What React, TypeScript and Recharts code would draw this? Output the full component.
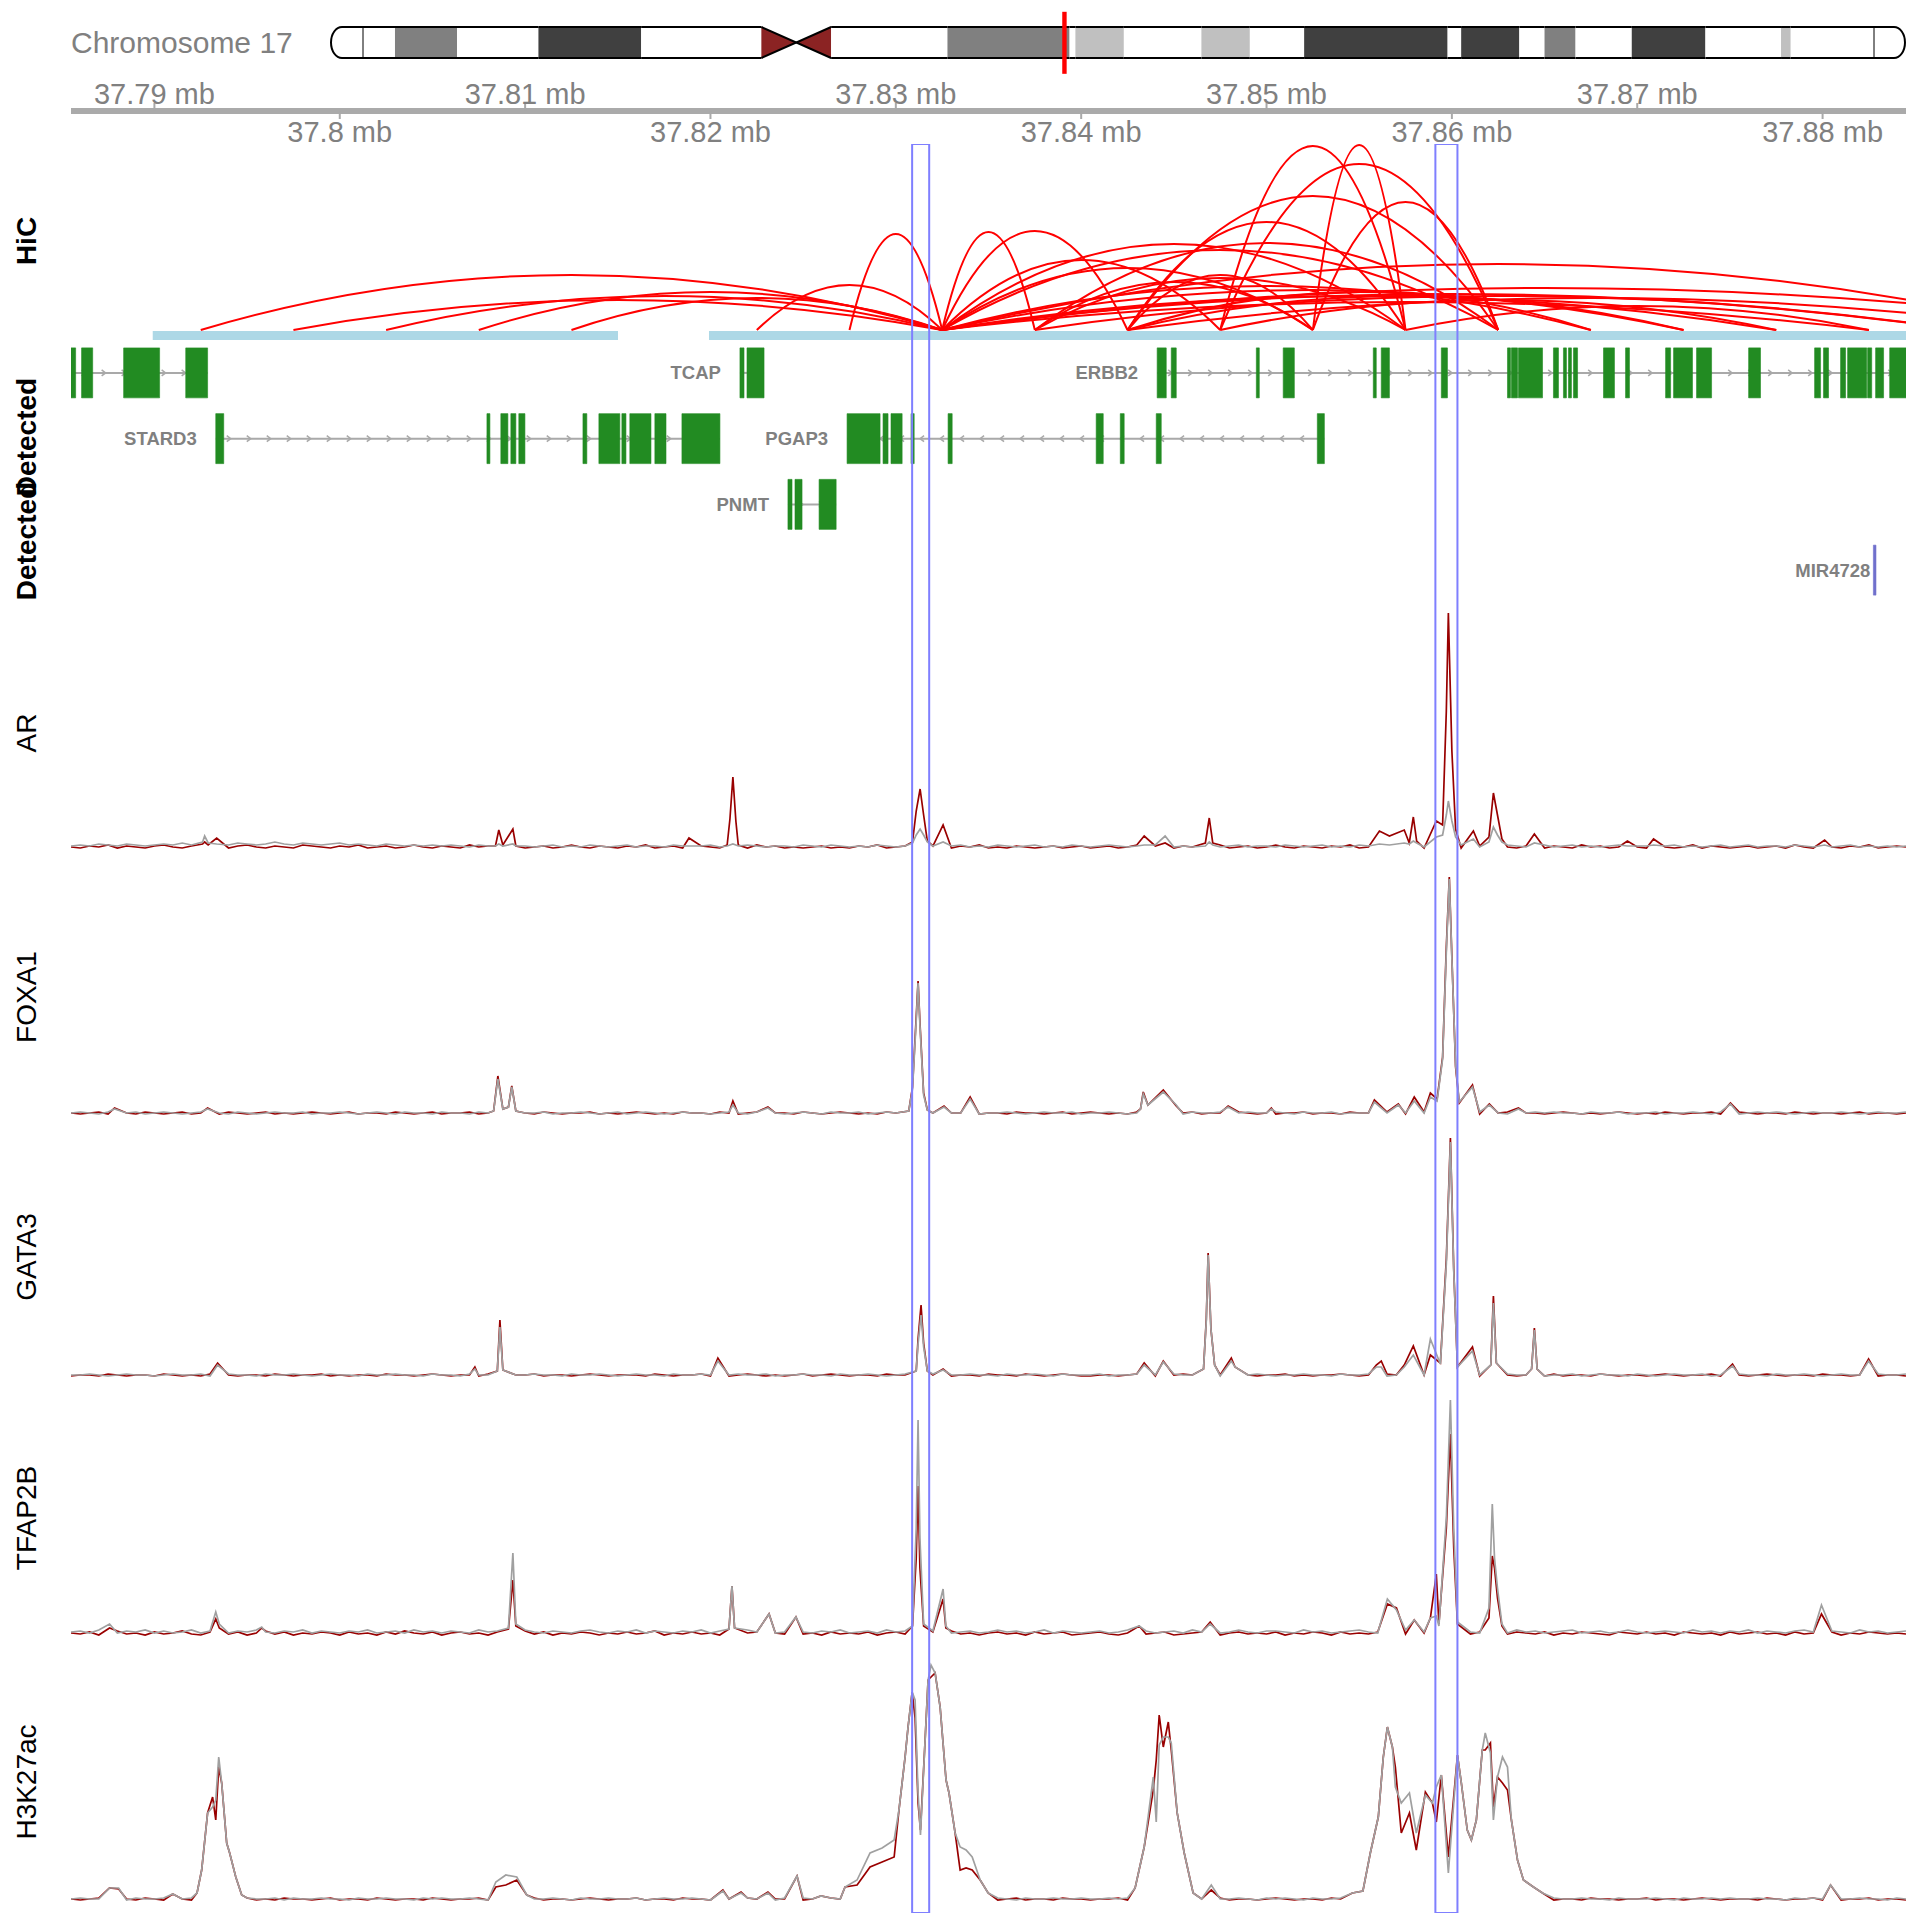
import { ComposedChart, Line, XAxis, YAxis, ReferenceArea, ReferenceLine, ReferenceDot } from "recharts";

const FONT = '"Liberation Sans", Arial, Helvetica, sans-serif';
const X_DOMAIN: [number, number] = [37.7855, 37.8845];
const MARGIN_X = { left: 71, right: 14 };

// ---- ideogram (chr17, hg19 bands, Mb) ----
const CHR17_LENGTH = 81.195;
const CHR17_BANDS: [string, number, number, string][] = [
  ["p13.3", 0, 3.3, "gneg"], ["p13.2", 3.3, 6.5, "gpos50"], ["p13.1", 6.5, 10.7, "gneg"],
  ["p12", 10.7, 16.0, "gpos75"], ["p11.2", 16.0, 22.2, "gneg"], ["p11.1", 22.2, 24.0, "acen"],
  ["q11.1", 24.0, 25.8, "acen"], ["q11.2", 25.8, 31.8, "gneg"], ["q12", 31.8, 38.1, "gpos50"],
  ["q21.1", 38.1, 38.4, "gneg"], ["q21.2", 38.4, 40.9, "gpos25"], ["q21.31", 40.9, 44.9, "gneg"],
  ["q21.32", 44.9, 47.4, "gpos25"], ["q21.33", 47.4, 50.2, "gneg"], ["q22", 50.2, 57.6, "gpos75"],
  ["q23.1", 57.6, 58.3, "gneg"], ["q23.2", 58.3, 61.3, "gpos75"], ["q23.3", 61.3, 62.6, "gneg"],
  ["q24.1", 62.6, 64.2, "gpos50"], ["q24.2", 64.2, 67.1, "gneg"], ["q24.3", 67.1, 70.9, "gpos75"],
  ["q25.1", 70.9, 74.8, "gneg"], ["q25.2", 74.8, 75.3, "gpos25"], ["q25.3", 75.3, 81.195, "gneg"],
];
const BAND_FILL: Record<string, string> = {
  gneg: "#FFFFFF", gpos25: "#C0C0C0", gpos50: "#808080", gpos75: "#404040", gpos100: "#000000", acen: "#8B2323",
};

// ---- genome axis ----
const AXIS_TICKS = [37.79, 37.8, 37.81, 37.82, 37.83, 37.84, 37.85, 37.86, 37.87, 37.88];

// ---- HiC ----
const HIC_BLOCKS: [number, number][] = [[37.78991, 37.81501], [37.81992, 37.8846]];
const HIC_LINKS: [number, number, number][] = [
  [37.7925, 37.8325, 55], [37.7975, 37.8325, 30], [37.8025, 37.8325, 34], [37.8075, 37.8325, 38],
  [37.8125, 37.8325, 32], [37.8225, 37.8325, 45], [37.8275, 37.8325, 96],
  [37.8325, 37.8375, 98], [37.8325, 37.8425, 99], [37.8325, 37.8475, 70], [37.8325, 37.8525, 62],
  [37.8325, 37.8575, 86], [37.8325, 37.8625, 80], [37.8325, 37.8675, 44], [37.8325, 37.8725, 40],
  [37.8325, 37.8775, 34], [37.8325, 37.8825, 28], [37.8325, 37.8875, 36], [37.8325, 37.8925, 66],
  [37.8325, 37.8975, 42],
  [37.8375, 37.8525, 48], [37.8375, 37.8575, 52], [37.8375, 37.8625, 87], [37.8375, 37.8875, 34],
  [37.8425, 37.8525, 55], [37.8425, 37.8575, 108], [37.8425, 37.8625, 134], [37.8425, 37.8675, 38],
  [37.8425, 37.8725, 34], [37.8425, 37.8925, 32],
  [37.8475, 37.8575, 184], [37.8475, 37.8625, 166], [37.8475, 37.8775, 30],
  [37.8525, 37.8575, 185], [37.8525, 37.8625, 128], [37.8575, 37.8825, 24],
];

// ---- genes (exon start/end, Mb) ----
const LEFT_GENE_EXONS: [number, number][] = [[37.78548, 37.78575], [37.78607, 37.78667], [37.78834, 37.79028], [37.79169, 37.79287]];
const TCAP_EXONS: [number, number][] = [[37.82159, 37.82181], [37.82197, 37.82289]];
const ERBB2_EXONS: [number, number][] = [
  [37.8441, 37.84459], [37.84486, 37.84513], [37.84945, 37.84961], [37.8509, 37.8515], [37.85576, 37.85592],
  [37.85619, 37.85663], [37.85943, 37.85976], [37.863, 37.86316], [37.86321, 37.86354], [37.86359, 37.86489],
  [37.86548, 37.86575], [37.86602, 37.86618], [37.86629, 37.86645], [37.86656, 37.86678], [37.86818, 37.86877],
  [37.86937, 37.86958], [37.87153, 37.8718], [37.87196, 37.87298], [37.8732, 37.87401], [37.87601, 37.87665],
  [37.87957, 37.87989], [37.88005, 37.88032], [37.88097, 37.88124], [37.88135, 37.88238], [37.88243, 37.88265],
  [37.88286, 37.88329], [37.88362, 37.8846],
];
const STARD3_EXONS: [number, number][] = [
  [37.79331, 37.79374], [37.80794, 37.8081], [37.80869, 37.80907], [37.80923, 37.8095], [37.80966, 37.80999],
  [37.81312, 37.81333], [37.81398, 37.81511], [37.81522, 37.81544], [37.81565, 37.81679], [37.817, 37.8176],
  [37.81846, 37.82051],
];
const PGAP3_EXONS: [number, number][] = [
  [37.82737, 37.82915], [37.82931, 37.82958], [37.82974, 37.83034], [37.83082, 37.83099], [37.83282, 37.83304],
  [37.84081, 37.84119], [37.84211, 37.84232], [37.84405, 37.84432], [37.85274, 37.85312],
];
const PNMT_EXONS: [number, number][] = [[37.82418, 37.8244], [37.82456, 37.82494], [37.82586, 37.82678]];
const MIR4728_EXONS: [number, number][] = [[37.88274, 37.88288]];

const GENES = [
  { name: "", row: 0, strand: 1, exons: LEFT_GENE_EXONS, color: "#228B22", offset: 18 },
  { name: "TCAP", row: 0, strand: 1, exons: TCAP_EXONS, color: "#228B22", offset: 18 },
  { name: "ERBB2", row: 0, strand: 1, exons: ERBB2_EXONS, color: "#228B22", offset: 18 },
  { name: "STARD3", row: 1, strand: 1, exons: STARD3_EXONS, color: "#228B22", offset: 18 },
  { name: "PGAP3", row: 1, strand: -1, exons: PGAP3_EXONS, color: "#228B22", offset: 18 },
  { name: "PNMT", row: 2, strand: 1, exons: PNMT_EXONS, color: "#228B22", offset: 18 },
  { name: "MIR4728", row: 3, strand: 1, exons: MIR4728_EXONS, color: "#7070CC", offset: 2 },
];

// ---- highlighted regions ----
const HIGHLIGHTS: [number, number][] = [[37.83088, 37.8318], [37.85911, 37.8603]];

// ---- signal tracks: baseline samples every 0.5 kb from 37.7855 Mb, plus peaks [pos, treat, ctrl] ----
const BASE_START = 37.7855;
const BASE_STEP = 0.0005;

const AR_TREAT_BASE = [
  4,3,5,4,6,3,5,4,3,5, 6,4,3,5,4,7,4,3,5,6, 4,3,5,4,3,6,5,4,3,5, 4,6,3,4,5,3,4,6,4,3,
  5,4,3,6,4,5,3,4,5,3, 4,5,3,4,6,4,3,5,4,3, 5,4,6,3,4,5,3,4,5,4, 3,5,4,3,6,4,5,3,4,3,
  4,5,3,4,3,5,4,6,3,4, 5,3,4,5,4,3,5,4,6,3, 4,3,5,4,3,4,5,3,4,5, 3,4,5,3,4,6,3,5,4,3,
  5,4,3,4,6,3,4,5,3,4, 6,4,3,5,4,3,5,4,6,3, 4,5,3,4,5,4,3,6,4,5, 3,4,5,3,6,4,3,5,4,3,
  5,4,3,6,4,5,3,4,5,4, 3,5,4,3,4,6,3,5,4,3, 4,5,3,4,5,3,6,4,3,5, 4,3,5,4,6,3,4,5,4,
];
const AR_CTRL_BASE = [
  5,6,5,7,6,5,7,6,5,6, 7,6,8,6,7,5,7,6,8,7, 6,7,9,7,6,8,7,6,7,8, 6,7,6,5,7,6,5,6,5,6,
  5,6,5,4,6,5,4,5,6,5, 4,5,6,4,5,4,6,5,4,5, 6,4,5,5,4,6,5,4,5,6, 4,5,4,6,5,4,5,5,4,6,
  5,4,6,5,4,5,4,6,5,4, 5,6,4,5,4,5,6,4,5,4, 6,5,4,5,6,4,5,4,6,5, 4,5,6,5,4,5,4,6,5,4,
  5,4,5,6,4,5,6,4,5,5, 4,6,5,4,5,6,4,5,4,6, 5,4,6,5,4,5,4,6,5,4, 6,5,4,5,4,6,5,4,5,6,
  4,5,6,4,5,4,5,6,4,5, 5,4,5,6,4,5,4,5,6,4, 5,6,4,5,5,4,6,5,4,5, 4,5,6,4,5,4,5,4,5,
];
const AR_PEAKS: [number, number, number][] = [
  [37.7926, 7, 9], [37.79271, 9, 15], [37.7929, 6, 8], [37.79336, 13, 7],
  [37.8084, 5, 5], [37.80858, 21, 7], [37.8088, 6, 5], [37.80934, 22, 7], [37.8095, 5, 5],
  [37.81884, 13, 5],
  [37.8209, 6, 5], [37.82105, 32, 6], [37.82121, 74, 7], [37.82137, 30, 6], [37.8215, 6, 5],
  [37.8309, 9, 8], [37.8311, 40, 16], [37.83131, 62, 22], [37.8315, 36, 16], [37.8317, 10, 9],
  [37.83255, 26, 9], [37.8434, 15, 6], [37.84453, 8, 15],
  [37.8467, 8, 5], [37.84691, 33, 9], [37.8471, 8, 6],
  [37.85609, 20, 7], [37.85663, 15, 6], [37.85743, 21, 8], [37.8577, 8, 7], [37.85792, 34, 10], [37.8581, 10, 8],
  [37.85916, 30, 14], [37.8595, 26, 16], [37.8597, 140, 36], [37.85981, 238, 50], [37.86, 100, 30], [37.8602, 22, 14],
  [37.86116, 20, 12], [37.862, 14, 9], [37.86224, 58, 24], [37.86246, 36, 16], [37.8627, 12, 9],
  [37.86445, 17, 8], [37.86947, 10, 5], [37.87088, 12, 6], [37.88011, 11, 6],
];

const FOXA1_TREAT_BASE = [
  4,3,4,5,3,4,4,3,5,4, 3,4,5,3,4,4,3,5,4,3, 4,5,3,4,3,4,5,4,3,4, 5,3,4,4,3,5,4,3,4,5,
  3,4,4,5,3,4,3,5,4,4, 3,5,4,3,4,4,5,3,4,3, 4,5,4,3,4,3,5,4,4,3, 5,4,3,4,5,3,4,4,3,5,
  4,3,4,5,4,3,4,3,5,4, 3,4,5,4,3,4,4,5,3,4, 4,3,5,4,4,3,4,5,3,4, 5,4,3,4,3,5,4,4,3,4,
  4,5,3,4,4,3,5,4,3,4, 3,4,4,5,3,4,4,3,5,4, 4,3,5,4,3,4,5,4,3,4, 5,4,3,4,4,5,3,4,4,3,
  4,5,4,3,4,3,4,5,4,3, 4,3,5,4,3,4,4,5,3,4, 5,4,3,4,4,3,5,4,3,4, 4,3,4,5,3,4,4,3,4,
];
const FOXA1_CTRL_BASE = [
  4,5,4,3,5,4,4,5,3,4, 5,4,3,4,5,4,4,3,5,4, 3,4,5,4,4,5,3,4,4,5, 4,3,4,5,4,3,5,4,4,3,
  5,4,4,3,5,4,3,4,5,4, 4,5,3,4,4,5,4,3,4,5, 3,4,5,4,3,4,5,4,4,3, 4,5,4,3,5,4,4,3,4,5,
  4,3,5,4,4,5,3,4,5,4, 5,4,3,4,5,4,4,5,3,4, 4,5,4,3,4,5,4,4,5,3, 4,4,5,4,3,4,5,4,3,5,
  3,5,4,4,5,3,4,5,4,4, 5,4,3,5,4,4,5,3,4,4, 4,5,4,3,4,5,4,4,3,5, 4,3,5,4,4,3,5,4,5,4,
  5,4,4,3,5,4,4,5,3,4, 4,5,3,4,4,5,4,3,5,4, 3,4,5,4,5,4,3,4,5,4, 4,5,4,3,4,5,4,4,5,
];
const FOXA1_PEAKS: [number, number, number][] = [
  [37.78785, 9, 8], [37.79287, 9, 8],
  [37.8083, 6, 6], [37.80853, 41, 38], [37.8088, 8, 8], [37.8091, 10, 10], [37.80928, 31, 30], [37.8095, 6, 6],
  [37.82121, 16, 12], [37.8231, 10, 9],
  [37.8307, 6, 6], [37.8309, 30, 28], [37.8311, 100, 96], [37.8312, 136, 134], [37.8313, 95, 92], [37.8315, 24, 22], [37.8317, 7, 7],
  [37.8326, 11, 10], [37.83401, 20, 18],
  [37.8432, 8, 8], [37.84335, 25, 23], [37.8436, 12, 12], [37.84443, 27, 25], [37.84513, 11, 12],
  [37.84793, 11, 10], [37.85026, 9, 8],
  [37.85582, 17, 15], [37.85711, 13, 12], [37.85797, 20, 16], [37.85884, 24, 20],
  [37.8592, 18, 16], [37.8595, 60, 58], [37.8597, 170, 165], [37.85986, 240, 238], [37.86, 160, 158], [37.8602, 50, 52], [37.8604, 14, 15],
  [37.86111, 32, 30], [37.86202, 13, 12], [37.86359, 9, 8], [37.87503, 14, 13],
];

const GATA3_TREAT_BASE = [
  3,4,4,3,5,4,3,4,4,3, 5,4,3,4,3,5,4,4,3,4, 4,3,5,4,3,4,4,5,3,4, 3,4,4,3,5,4,4,3,4,5,
  4,3,4,4,3,5,4,3,4,4, 5,3,4,4,3,4,5,4,3,4, 4,4,3,5,4,3,4,4,5,3, 4,3,4,5,4,3,4,3,4,5,
  3,4,5,4,3,4,4,3,5,4, 4,3,4,4,5,3,4,4,3,5, 4,4,3,5,4,3,4,5,4,3, 3,4,4,3,4,5,4,3,4,4,
  5,4,3,4,4,3,5,4,3,4, 4,5,3,4,3,4,4,5,4,3, 4,3,5,4,4,3,4,4,5,3, 4,4,3,4,5,4,3,4,4,3,
  5,3,4,4,3,5,4,3,4,4, 3,4,5,4,3,4,4,5,3,4, 4,3,4,5,4,3,4,4,3,5, 4,4,3,4,5,3,4,4,3,
];
const GATA3_CTRL_BASE = [
  4,4,5,4,3,4,5,4,4,3, 4,5,4,4,5,3,4,5,4,4, 3,5,4,4,5,4,3,4,5,4, 4,3,5,4,4,5,4,4,3,5,
  4,4,3,5,4,4,5,3,4,4, 5,4,4,3,5,4,4,5,4,3, 4,5,4,4,3,5,4,4,5,4, 3,4,5,4,4,5,3,4,4,5,
  4,4,3,5,4,4,5,4,3,4, 5,4,4,5,3,4,4,5,4,4, 3,5,4,4,5,4,3,5,4,4, 4,5,3,4,4,5,4,4,3,5,
  4,4,5,4,3,4,5,4,5,4, 3,4,4,5,4,4,3,5,4,4, 5,4,3,4,5,4,4,3,5,4, 4,5,4,4,3,5,4,4,5,3,
  4,4,5,3,4,5,4,4,3,5, 4,3,4,5,4,4,5,3,4,4, 5,4,4,3,5,4,4,5,4,3, 4,5,4,4,3,5,4,4,5,
];
const GATA3_PEAKS: [number, number, number][] = [
  [37.79341, 16, 14],
  [37.80729, 12, 10], [37.8085, 8, 8], [37.80864, 59, 52], [37.8088, 9, 9],
  [37.8204, 21, 18],
  [37.8311, 8, 8], [37.8312, 40, 35], [37.83136, 74, 64], [37.8315, 36, 32], [37.8317, 8, 8],
  [37.83255, 10, 9], [37.8434, 16, 14], [37.84443, 18, 17],
  [37.8466, 10, 10], [37.84675, 60, 58], [37.84685, 126, 124], [37.847, 50, 50], [37.8472, 14, 14],
  [37.8481, 21, 18], [37.8483, 12, 12],
  [37.85592, 14, 12], [37.85619, 18, 12], [37.85743, 14, 12], [37.85792, 33, 24], [37.85884, 24, 40], [37.85938, 16, 15],
  [37.8597, 120, 115], [37.85992, 241, 237], [37.8601, 110, 108], [37.8603, 12, 12],
  [37.86111, 32, 28], [37.8621, 14, 14], [37.86224, 83, 76], [37.8624, 16, 16],
  [37.8643, 10, 10], [37.86445, 51, 49], [37.8646, 10, 10],
  [37.87514, 15, 13], [37.88248, 20, 18],
];

const TFAP2B_TREAT_BASE = [
  5,4,6,3,5,7,4,5,3,6, 4,5,7,4,3,6,5,4,6,3, 5,7,4,6,3,5,4,6,5,3, 6,4,5,3,6,4,7,5,4,6,
  3,5,6,4,5,3,6,4,5,7, 4,6,3,5,4,6,5,3,5,4, 6,4,5,7,3,5,4,6,4,5, 3,6,4,5,6,3,5,4,7,4,
  5,3,6,4,5,4,6,3,5,6, 4,5,3,6,4,7,4,5,3,5, 6,4,5,3,6,4,5,6,3,4, 5,6,4,3,5,7,4,5,6,3,
  4,5,6,4,3,5,6,4,5,4, 6,3,5,4,6,5,3,6,4,5, 4,6,5,3,4,6,5,4,6,3, 5,4,6,5,3,4,6,5,4,6,
  3,5,4,6,5,4,3,6,5,4, 6,4,5,3,6,5,4,5,3,6, 4,5,6,4,5,3,6,4,5,4, 6,3,5,4,6,5,4,5,4,
];
const TFAP2B_CTRL_BASE = [
  6,7,5,8,6,5,7,6,8,5, 7,5,6,8,5,7,6,5,7,6, 8,6,5,7,6,8,5,7,6,5, 7,6,8,5,6,7,5,8,6,7,
  5,7,6,5,8,6,7,5,6,8, 6,5,7,6,5,7,8,6,5,7, 6,8,5,7,6,5,7,6,8,5, 7,6,5,8,6,7,5,6,7,6,
  5,7,6,8,5,6,7,5,8,6, 7,5,6,7,8,5,6,7,5,6, 8,6,7,5,6,8,5,7,6,5, 6,7,5,6,8,6,7,5,6,7,
  5,8,6,7,5,6,8,6,5,7, 7,6,5,8,6,7,5,6,7,8, 6,5,7,6,8,5,6,7,5,6, 8,6,5,7,6,5,8,6,7,5,
  6,7,8,5,6,7,5,6,8,6, 5,6,7,6,5,8,6,7,5,7, 6,8,5,7,6,5,7,8,6,5, 7,6,5,8,6,7,5,6,7,
];
const TFAP2B_PEAKS: [number, number, number][] = [
  [37.78758, 10, 14], [37.79331, 19, 26], [37.7935, 10, 14], [37.79579, 10, 11],
  [37.8091, 9, 10], [37.80934, 58, 85], [37.8095, 12, 14],
  [37.821, 9, 9], [37.82116, 52, 52], [37.8213, 10, 10],
  [37.82316, 24, 24], [37.82461, 21, 21],
  [37.8309, 12, 12], [37.8311, 80, 110], [37.8312, 152, 218], [37.8313, 70, 100], [37.8315, 12, 14],
  [37.83255, 39, 49], [37.8327, 10, 12],
  [37.84313, 12, 12], [37.84696, 16, 14],
  [37.85652, 34, 39], [37.85701, 30, 28], [37.85797, 18, 18], [37.85884, 20, 20], [37.85916, 64, 22], [37.8593, 14, 12],
  [37.8597, 110, 120], [37.85992, 204, 238], [37.8601, 90, 110], [37.8603, 14, 16],
  [37.862, 20, 30], [37.86218, 82, 134], [37.8623, 70, 80], [37.86246, 40, 50], [37.8627, 12, 14],
  [37.87994, 24, 33],
];

const H3K27AC_TREAT_BASE = [
  4,3,4,5,3,4,4,3,5,4, 3,4,4,3,5,4,3,4,4,5, 3,4,3,5,4,4,3,4,5,3, 4,4,3,5,4,3,4,4,3,5,
  4,3,4,4,5,3,4,3,4,4, 5,3,4,4,3,4,5,4,3,4, 4,5,3,4,4,3,5,4,4,3, 4,4,3,5,4,3,4,4,5,3,
  4,3,5,4,3,4,4,3,4,5, 3,4,4,5,3,4,3,4,5,4, 3,4,5,3,4,4,3,5,4,4, 3,4,4,5,3,4,4,3,5,4,
  4,3,4,4,5,3,4,4,3,4, 5,4,3,4,4,3,5,4,3,4, 4,5,3,4,3,4,4,5,3,4, 4,3,4,5,4,3,4,4,3,5,
  3,4,4,3,5,4,4,3,4,4, 5,3,4,4,3,4,5,4,3,4, 4,4,3,5,4,3,4,4,5,3, 4,3,4,4,5,3,4,4,3,
];
const H3K27AC_CTRL_BASE = [
  4,5,4,4,5,4,3,5,4,4, 5,4,4,5,3,4,5,4,4,5, 4,4,5,3,5,4,4,5,4,4, 3,5,4,4,5,4,4,3,5,4,
  5,4,4,5,4,3,5,4,4,5, 4,4,5,4,3,5,4,4,5,4, 4,5,3,4,5,4,4,5,4,3, 5,4,4,5,4,4,3,5,4,5,
  4,3,5,4,4,5,4,4,5,3, 4,5,4,4,3,5,4,5,4,4, 5,4,3,5,4,4,5,4,4,5, 4,4,5,4,5,3,4,5,4,4,
  5,3,4,5,4,4,5,4,3,5, 4,5,4,3,5,4,4,5,4,4, 3,5,4,4,5,4,5,3,4,5, 4,4,5,4,3,5,4,4,5,4,
  5,4,4,5,4,4,3,5,4,4, 4,5,4,3,5,4,4,5,4,5, 4,4,5,4,4,3,5,4,5,4, 5,4,4,5,4,4,3,5,4,
];
const H3K27AC_PEAKS: [number, number, number][] = [
  [37.78758, 15, 15], [37.78807, 14, 15], [37.79099, 9, 9],
  [37.7923, 10, 10], [37.79255, 33, 33], [37.79287, 90, 90], [37.79314, 106, 96], [37.79331, 83, 103],
  [37.79347, 136, 146], [37.79363, 120, 120], [37.7939, 60, 60], [37.79406, 50, 50], [37.79439, 26, 26], [37.79471, 8, 8],
  [37.80842, 16, 21], [37.80896, 18, 28], [37.80955, 23, 26], [37.81009, 8, 8],
  [37.82067, 13, 12], [37.82165, 11, 10], [37.8231, 11, 10], [37.82467, 27, 27], [37.82596, 7, 7],
  [37.82726, 16, 16], [37.82791, 18, 23], [37.82861, 36, 50], [37.82926, 41, 55], [37.82991, 46, 63],
  [37.83017, 93, 93], [37.8305, 146, 146], [37.83066, 176, 176], [37.83088, 211, 211], [37.83104, 185, 203],
  [37.8312, 100, 110], [37.83133, 73, 68], [37.83158, 163, 163], [37.83174, 223, 223], [37.8319, 226, 238],
  [37.83212, 230, 230], [37.83239, 196, 196], [37.83271, 123, 123], [37.83287, 110, 110], [37.8332, 70, 70],
  [37.83347, 33, 56], [37.83379, 35, 53], [37.83412, 33, 46], [37.83455, 23, 23], [37.83498, 10, 10],
  [37.84291, 15, 15], [37.8434, 56, 56], [37.84389, 113, 126], [37.84405, 143, 81], [37.84421, 188, 158],
  [37.84443, 156, 166], [37.8447, 181, 166], [37.84486, 153, 160], [37.84518, 90, 90], [37.84556, 50, 50],
  [37.84604, 10, 10], [37.84702, 13, 18],
  [37.85463, 10, 10], [37.8552, 12, 12], [37.8556, 50, 50], [37.85603, 86, 86], [37.8563, 146, 146],
  [37.85652, 176, 176], [37.85679, 156, 156], [37.85695, 136, 116], [37.85727, 70, 100], [37.85771, 90, 110],
  [37.85808, 53, 70], [37.85857, 111, 108], [37.85895, 100, 100], [37.85916, 81, 116], [37.85943, 128, 128],
  [37.85981, 46, 30], [37.8603, 148, 148], [37.86051, 120, 120], [37.86083, 73, 73], [37.86105, 63, 63],
  [37.86132, 83, 83], [37.86164, 153, 153], [37.8618, 153, 170], [37.86208, 160, 150], [37.86224, 96, 83],
  [37.86246, 126, 126], [37.86273, 120, 146], [37.863, 113, 136], [37.86321, 83, 83], [37.86354, 43, 43],
  [37.86386, 23, 23], [37.8644, 16, 16], [37.86489, 10, 10], [37.88043, 18, 18],
];

const TRACKS = [
  { name: "AR", zeroY: 851, titleY: 733, treat: AR_TREAT_BASE, ctrl: AR_CTRL_BASE, peaks: AR_PEAKS },
  { name: "FOXA1", zeroY: 1117, titleY: 997, treat: FOXA1_TREAT_BASE, ctrl: FOXA1_CTRL_BASE, peaks: FOXA1_PEAKS },
  { name: "GATA3", zeroY: 1379, titleY: 1257, treat: GATA3_TREAT_BASE, ctrl: GATA3_CTRL_BASE, peaks: GATA3_PEAKS },
  { name: "TFAP2B", zeroY: 1638, titleY: 1518, treat: TFAP2B_TREAT_BASE, ctrl: TFAP2B_CTRL_BASE, peaks: TFAP2B_PEAKS },
  { name: "H3K27ac", zeroY: 1903, titleY: 1782, treat: H3K27AC_TREAT_BASE, ctrl: H3K27AC_CTRL_BASE, peaks: H3K27AC_PEAKS },
];
const TRACK_RANGE = 261;

// merge baseline samples with peak samples; baseline samples sitting inside a peak are left out
const buildTrack = (treat: number[], ctrl: number[], peaks: [number, number, number][]) => {
  const base = treat.map((t, i) => ({ pos: BASE_START + i * BASE_STEP, treat: t, ctrl: ctrl[i] ?? t }));
  const kept = base.filter((r) => {
    const near = peaks.some((p) => Math.abs(p[0] - r.pos) < 0.0002);
    const inside =
      peaks.some((p) => p[0] < r.pos && r.pos - p[0] < 0.00045) && peaks.some((p) => p[0] > r.pos && p[0] - r.pos < 0.00045);
    return !near && !inside;
  });
  const rows = [...kept, ...peaks.map((p) => ({ pos: p[0], treat: p[1], ctrl: p[2] }))];
  return rows.sort((a, b) => a.pos - b.pos);
};

// ---- shapes ----
const bandShape = (name: string, stain: string, first: boolean, last: boolean) => (p: any) => {
  const { x, y, width: w, height: h } = p;
  const fill = BAND_FILL[stain];
  if (stain === "acen") {
    const pArm = name.startsWith("p");
    const d = pArm
      ? `M${x},${y} L${x + w},${y + h / 2} L${x},${y + h}`
      : `M${x + w},${y} L${x},${y + h / 2} L${x + w},${y + h}`;
    return (
      <g>
        <path d={`${d} Z`} fill={fill} stroke="none" />
        <path d={d} fill="none" stroke="#000" strokeWidth={2} />
      </g>
    );
  }
  const r = 11;
  if (first) {
    return (
      <g>
        <path d={`M${x + r},${y} L${x + w},${y} L${x + w},${y + h} L${x + r},${y + h} A${r},${h / 2} 0 0 1 ${x + r},${y} Z`} fill={fill} />
        <path d={`M${x + w},${y} L${x + r},${y} A${r},${h / 2} 0 0 0 ${x + r},${y + h} L${x + w},${y + h}`} fill="none" stroke="#000" strokeWidth={2} />
        <line x1={x + 32} x2={x + 32} y1={y} y2={y + h} stroke="#000" strokeWidth={1} />
      </g>
    );
  }
  if (last) {
    return (
      <g>
        <path d={`M${x},${y} L${x + w - r},${y} A${r},${h / 2} 0 0 1 ${x + w - r},${y + h} L${x},${y + h} Z`} fill={fill} />
        <path d={`M${x},${y} L${x + w - r},${y} A${r},${h / 2} 0 0 1 ${x + w - r},${y + h} L${x},${y + h}`} fill="none" stroke="#000" strokeWidth={2} />
        <line x1={x + w - 31} x2={x + w - 31} y1={y} y2={y + h} stroke="#000" strokeWidth={1} />
      </g>
    );
  }
  return (
    <g>
      <rect x={x} y={y} width={w} height={h} fill={fill} />
      <line x1={x} x2={x + w} y1={y} y2={y} stroke="#000" strokeWidth={2} />
      <line x1={x} x2={x + w} y1={y + h} y2={y + h} stroke="#000" strokeWidth={2} />
    </g>
  );
};

const AXIS_LINE_Y = 51;
const AxisTick = (props: any) => {
  const { x, payload, index } = props;
  const up = index % 2 === 0;
  const label = `${Number(Number(payload.value).toFixed(2))} mb`;
  return (
    <g>
      <line x1={x} x2={x} y1={up ? AXIS_LINE_Y - 8 : AXIS_LINE_Y} y2={up ? AXIS_LINE_Y : AXIS_LINE_Y + 8} stroke="#A9A9A9" strokeWidth={2} />
      <text x={x} y={up ? AXIS_LINE_Y - 7 : AXIS_LINE_Y + 31} textAnchor="middle" fontSize={29} fill="#808080" fontFamily={FONT}>
        {label}
      </text>
    </g>
  );
};

const arcShape = (p: any) => {
  const { x1, y1, x2, y2, clipPath } = p;
  const ctrlY = 2 * y2 - y1;
  return (
    <path d={`M${x1},${y1} Q${(x1 + x2) / 2},${ctrlY} ${x2},${y1}`} fill="none" stroke="#FF0000" strokeWidth={2} clipPath={clipPath} />
  );
};

const intronShape = (strand: number) => (p: any) => {
  const { x, y, width: w, height: h, clipPath } = p;
  const cy = y + h / 2;
  const marks: JSX.Element[] = [];
  for (let ax = x + 14; ax < x + w - 4; ax += 20) {
    const d = strand > 0 ? `M${ax - 3},${cy - 3} L${ax + 1},${cy} L${ax - 3},${cy + 3}` : `M${ax + 3},${cy - 3} L${ax - 1},${cy} L${ax + 3},${cy + 3}`;
    marks.push(<path key={ax} d={d} fill="none" stroke="#A9A9A9" strokeWidth={1.5} />);
  }
  return (
    <g clipPath={clipPath}>
      <line x1={x} x2={x + w} y1={cy} y2={cy} stroke="#A9A9A9" strokeWidth={2} />
      {marks}
    </g>
  );
};

const TrackTitle = ({ text, cy, bold }: { text: string; cy: number; bold?: boolean }) => (
  <div
    style={{
      position: "absolute", left: 27, top: cy, transform: "translate(-50%, -50%) rotate(-90deg)",
      fontSize: 28, fontWeight: bold ? 700 : 400, whiteSpace: "nowrap", lineHeight: 1, color: "#000",
    }}
  >
    {text}
  </div>
);

const place = (top: number): React.CSSProperties => ({ position: "absolute", left: 0, top });

export default function App() {
  return (
    <div style={{ position: "absolute", left: 0, top: 0, width: 1920, height: 1920, background: "#fff", fontFamily: FONT, overflow: "hidden" }}>
      {/* chromosome ideogram */}
      <div style={{ position: "absolute", left: 71, top: 43, transform: "translateY(-50%)", fontSize: 30, color: "#808080", lineHeight: 1 }}>
        Chromosome 17
      </div>
      <div style={place(0)}>
        <ComposedChart width={1920} height={85} margin={{ top: 27, bottom: 27, left: 331, right: 15 }}>
          <XAxis type="number" dataKey="pos" domain={[0, CHR17_LENGTH]} allowDataOverflow hide />
          <YAxis type="number" domain={[0, 1]} allowDataOverflow hide />
          {CHR17_BANDS.map((b, i) => (
            <ReferenceArea
              key={b[0]} x1={b[1]} x2={b[2]} y1={0} y2={1} ifOverflow="visible" fill={BAND_FILL[b[3]]} fillOpacity={1}
              shape={bandShape(b[0], b[3], i === 0, i === CHR17_BANDS.length - 1)}
            />
          ))}
          <ReferenceArea x1={X_DOMAIN[0]} x2={X_DOMAIN[1]} y1={-0.47} y2={1.45} ifOverflow="visible" fill="none" fillOpacity={0} stroke="#FF0000" strokeWidth={2.5} />
        </ComposedChart>
      </div>

      {/* genome axis */}
      <div style={place(60)}>
        <ComposedChart width={1920} height={100} data={AXIS_TICKS.map((t) => ({ pos: t }))} margin={{ top: 50, bottom: 0, ...MARGIN_X }}>
          <XAxis
            type="number" dataKey="pos" domain={X_DOMAIN} allowDataOverflow ticks={AXIS_TICKS} interval={0} height={49}
            tickLine={false} axisLine={{ stroke: "#AAAAAA", strokeWidth: 6 }} tick={<AxisTick />}
          />
          <YAxis type="number" domain={[0, 1]} allowDataOverflow hide />
        </ComposedChart>
      </div>

      {/* HiC */}
      <TrackTitle text="HiC" cy={241} bold />
      <div style={place(140)}>
        <ComposedChart width={1920} height={205} margin={{ top: 0, bottom: 4, ...MARGIN_X }}>
          <XAxis type="number" dataKey="pos" domain={X_DOMAIN} allowDataOverflow hide />
          <YAxis type="number" domain={[-11, 190]} allowDataOverflow hide />
          {HIC_BLOCKS.map((b, i) => (
            <ReferenceArea key={i} x1={b[0]} x2={b[1]} y1={-10} y2={-1} ifOverflow="hidden" fill="#ADD8E6" fillOpacity={1} stroke="none" />
          ))}
          {HIC_LINKS.map((l, i) => (
            <ReferenceLine key={i} segment={[{ x: l[0], y: 0 }, { x: l[1], y: l[2] }]} ifOverflow="hidden" stroke="#FF0000" shape={arcShape} />
          ))}
        </ComposedChart>
      </div>

      {/* gene models */}
      <TrackTitle text="Detected" cy={437} bold />
      <TrackTitle text="Detected" cy={541} bold />
      <div style={place(340)}>
        <ComposedChart width={1920} height={263} margin={{ top: 0, bottom: 0, ...MARGIN_X }}>
          <XAxis type="number" dataKey="pos" domain={X_DOMAIN} allowDataOverflow hide />
          <YAxis type="number" domain={[0, 4]} reversed allowDataOverflow hide />
          {GENES.filter((g) => g.exons.length > 1).map((g) => (
            <ReferenceArea
              key={`intron-${g.name}`} x1={g.exons[0][0]} x2={g.exons[g.exons.length - 1][1]}
              y1={g.row + 0.49} y2={g.row + 0.51} ifOverflow="hidden" fill="#A9A9A9" fillOpacity={1}
              shape={intronShape(g.strand)}
            />
          ))}
          {GENES.flatMap((g) =>
            g.exons.map((e, j) => (
              <ReferenceArea
                key={`exon-${g.name}-${j}`} x1={e[0]} x2={e[1]} y1={g.row + 0.12} y2={g.row + 0.88}
                ifOverflow="hidden" fill={g.color} fillOpacity={1} stroke={g.color} strokeWidth={0.6}
              />
            ))
          )}
          {GENES.filter((g) => g.name).map((g) => (
            <ReferenceDot
              key={`label-${g.name}`} x={g.exons[0][0]} y={g.row + 0.5} r={1} fill="none" stroke="none" ifOverflow="visible"
              label={{ value: g.name, position: "left", offset: g.offset, fill: "#808080", fontSize: 18.5, fontWeight: 700, fontFamily: FONT }}
            />
          ))}
        </ComposedChart>
      </div>

      {/* signal tracks */}
      {TRACKS.map((t) => (
        <TrackTitle key={`title-${t.name}`} text={t.name} cy={t.titleY} />
      ))}
      {TRACKS.map((t) => (
        <div key={t.name} style={place(t.zeroY - TRACK_RANGE)}>
          <ComposedChart width={1920} height={TRACK_RANGE + 9} data={buildTrack(t.treat, t.ctrl, t.peaks)} margin={{ top: 0, bottom: 9, ...MARGIN_X }}>
            <XAxis type="number" dataKey="pos" domain={X_DOMAIN} allowDataOverflow hide />
            <YAxis type="number" domain={[0, TRACK_RANGE]} allowDataOverflow hide />
            <Line type="linear" dataKey="treat" stroke="#990000" strokeWidth={1.7} dot={false} activeDot={false} isAnimationActive={false} />
            <Line type="linear" dataKey="ctrl" stroke="#A0A0A0" strokeWidth={1.7} dot={false} activeDot={false} isAnimationActive={false} />
          </ComposedChart>
        </div>
      ))}

      {/* highlight boxes */}
      <div style={place(144)}>
        <ComposedChart width={1920} height={1769} margin={{ top: 0, bottom: 0, ...MARGIN_X }}>
          <XAxis type="number" dataKey="pos" domain={X_DOMAIN} allowDataOverflow hide />
          <YAxis type="number" domain={[0, 1]} allowDataOverflow hide />
          {HIGHLIGHTS.map((h, i) => (
            <ReferenceArea key={i} x1={h[0]} x2={h[1]} y1={0} y2={1} fill="none" fillOpacity={0} stroke="#7F7FFF" strokeWidth={2} />
          ))}
        </ComposedChart>
      </div>
    </div>
  );
}
